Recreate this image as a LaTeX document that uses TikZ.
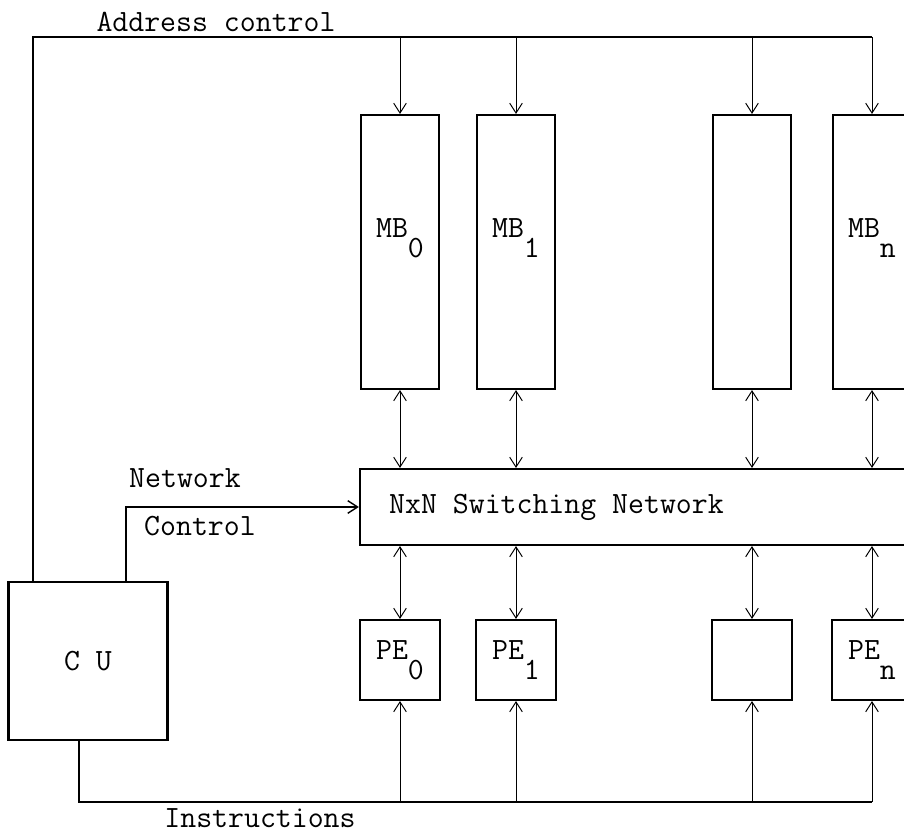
\documentclass[tikz,border=0pt]{standalone}
\usepackage{fontspec}
\usepackage{tikz}
\usetikzlibrary{arrows.meta}
\newcommand{\lowsub}[1]{\raisebox{-0.65em}{#1}}

\begin{document}
\begin{tikzpicture}[x=0.025cm, y=-0.025cm,
  font=\ttfamily\fontsize{22}{26}\selectfont,
  >={Straight Barb[length=7pt,width=9pt]},
  box/.style={draw, line width=1.5pt, inner sep=0pt},
  membox/.style={box, minimum width=1.95cm, minimum height=6.85cm},
  pebox/.style={box, minimum width=1.98cm, minimum height=2cm},
  bus/.style={line width=1.3pt},
  wire/.style={line width=0.7pt}]
\useasboundingbox (0,0) rectangle (904,834);
\clip (0,0) rectangle (904,834);

\node[box, minimum width=3.975cm, minimum height=3.95cm] (cu) at (88,661) {C U};
\node[box, minimum width=13.75cm, minimum height=1.9cm,
      label={[anchor=west, xshift=0.75cm, inner sep=0pt]west:NxN Switching Network}] (net) at (635,507) {};

\foreach \n/\x/\lab in {0/400/MB\lowsub{0}, 1/516/MB\lowsub{1}, 2/752/, n/872/MB\lowsub{n}}
    \node[membox, label={[yshift=0.35cm]center:\lab}] (mb\n) at (\x,252) {};
\foreach \n/\x/\lab in {0/400/PE\lowsub{0}, 1/516/PE\lowsub{1}, 2/752/, n/872/PE\lowsub{n}}
    \node[pebox] (pe\n) at (\x,660) {\lab};

\coordinate (addr) at (33,37);
\coordinate (ctl) at (126,0);
\coordinate (instr) at (79,802);

\draw[bus] (cu.north -| addr) -- (addr) -- (addr -| mbn.north);
\draw[bus] (cu.south -| instr) -- (instr) -- (instr -| pen.south);
\draw[line width=1pt, ->] (cu.north -| ctl) |- (net.west);

\foreach \n in {0,1,2,n} {
    \draw[wire, ->] (addr -| mb\n.north) -- (mb\n.north);
    \draw[wire, <->] (mb\n.south) -- (net.north -| mb\n.south);
    \draw[wire, <->] (net.south -| pe\n.north) -- (pe\n.north);
    \draw[wire, ->] (instr -| pe\n.south) -- (pe\n.south);
}

\node (addrlab) at (216,22) {Address control};
\node (netlab) at (185,478) {Network};
\node (ctllab) at (200,526) {Control};
\node (instrlab) at (260,818) {Instructions};
\end{tikzpicture}
\end{document}
